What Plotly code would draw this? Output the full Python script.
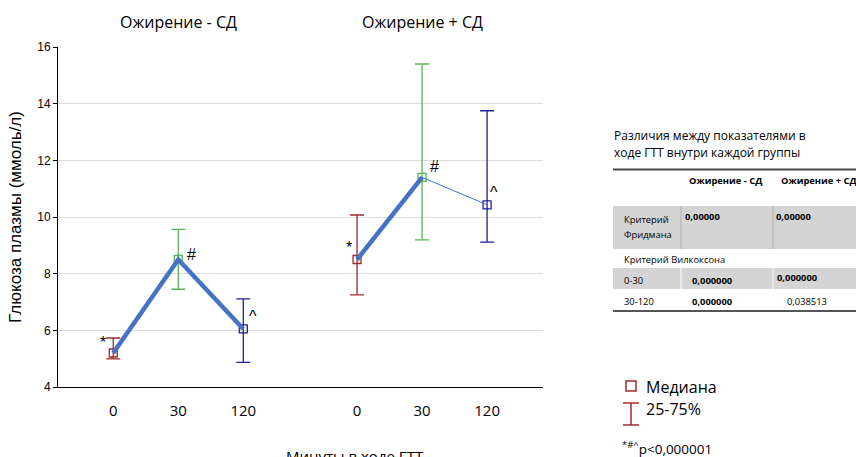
import plotly.graph_objects as go

# ---------------- data ----------------
groups = ["Ожирение - СД", "Ожирение + СД"]
times = ["0", "30", "120"]
median_g1 = [5.2, 8.5, 6.05]
q1_g1 = [4.99, 7.45, 4.87]
q3_g1 = [5.73, 9.56, 7.11]
median_g2 = [8.5, 11.4, 10.43]
q1_g2 = [7.25, 9.19, 9.11]
q3_g2 = [10.07, 15.4, 13.75]
marks = ["*", "#", "^"]
yticks = [4, 6, 8, 10, 12, 14, 16]

table_cols = ["Ожирение - СД", "Ожирение + СД"]
friedman = ["0,00000", "0,00000"]
wil_0_30 = ["0,000000", "0,000000"]
wil_30_120 = ["0,000000", "0,038513"]

# ---------------- layout constants ----------------
W, H = 856, 457
L, R, T, B = 58, 313, 47, 70
PW, PH = W - L - R, H - T - B
group_offset = [0, 3.75]
time_colors = ["#a3282c", "#55b455", "#1f1f96"]
line_blue = "#4472c4"
FONT = "Open Sans"

def px(x):
    return (x - L) / PW

def py(y):
    return (H - B - y) / PH

xs = [[g + i for i in range(len(times))] for g in group_offset]
meds = [median_g1, median_g2]
q1s = [q1_g1, q1_g2]
q3s = [q3_g1, q3_g2]

fig = go.Figure()

# error bars + median markers, one trace per time point
for ti, t in enumerate(times):
    xv = [xs[g][ti] for g in range(2)]
    yv = [meds[g][ti] for g in range(2)]
    up = [q3s[g][ti] - meds[g][ti] for g in range(2)]
    dn = [meds[g][ti] - q1s[g][ti] for g in range(2)]
    fig.add_trace(go.Scatter(
        x=xv, y=yv, mode="markers",
        marker=dict(symbol="square-open", size=8, color=time_colors[ti], line=dict(width=1.3)),
        error_y=dict(type="data", array=up, arrayminus=dn, color=time_colors[ti],
                     thickness=1.3, width=7),
        showlegend=False, hoverinfo="skip"))

# connecting lines
fig.add_trace(go.Scatter(x=xs[0], y=median_g1, mode="lines",
                         line=dict(color=line_blue, width=4.5), showlegend=False))
fig.add_trace(go.Scatter(x=xs[1][:2], y=median_g2[:2], mode="lines",
                         line=dict(color=line_blue, width=4.5), showlegend=False))
fig.add_trace(go.Scatter(x=xs[1][1:], y=median_g2[1:], mode="lines",
                         line=dict(color=line_blue, width=1), showlegend=False))

annotations = []
# significance marks
offsets = [(-10, 11), (13, 5), (10, 12)]
offsets2 = [(-8, 12), (12, 11), (7, 12)]
for g in range(2):
    for ti in range(3):
        ox, oy = (offsets if g == 0 else offsets2)[ti]
        annotations.append(dict(x=xs[g][ti], y=meds[g][ti], xref="x", yref="y",
                                text=marks[ti], showarrow=False, xshift=ox, yshift=oy,
                                xanchor="center", yanchor="middle",
                                font=dict(size=16, color="black", family="Liberation Sans")))

# group titles
for g in range(2):
    annotations.append(dict(x=xs[g][1], y=py(22), xref="x", yref="paper",
                            text=groups[g], showarrow=False, xanchor="center", yanchor="middle",
                            font=dict(size=16, color="black", family=FONT)))

# x axis title (cut at the bottom as in the original)
annotations.append(dict(x=px(355), y=py(444), xref="paper", yref="paper",
                        text="Минуты в ходе ГТТ", showarrow=False, xanchor="center", yanchor="top",
                        font=dict(size=15, color="black", family=FONT)))

shapes = []
# ---------------- table ----------------
def tt(x, y, text, bold=False, anchor="left", size=9.4):
    annotations.append(dict(x=px(x), y=py(y), xref="paper", yref="paper", xanchor=anchor,
                            yanchor="middle",
                            text=("<b>%s</b>" % text) if bold else text, showarrow=False,
                            font=dict(size=size, color="black", family=FONT)))

tt(612, 135, "Различия между показателями в", size=12)
tt(612, 152, "ходе ГТТ внутри каждой группы", size=12)
shapes.append(dict(type="line", xref="paper", yref="paper", x0=px(613), x1=px(856),
                   y0=py(169.5), y1=py(169.5), line=dict(color="#444", width=2)))
shapes.append(dict(type="line", xref="paper", yref="paper", x0=px(613), x1=px(856),
                   y0=py(311), y1=py(311), line=dict(color="#555", width=2)))
for (a, b) in [(206, 249), (268, 289)]:
    shapes.append(dict(type="rect", xref="paper", yref="paper", x0=px(613), x1=px(856),
                       y0=py(b), y1=py(a), fillcolor="#d4d4d4", line=dict(width=0), layer="below"))
for xv in [681, 773]:
    shapes.append(dict(type="line", xref="paper", yref="paper", x0=px(xv), x1=px(xv),
                       y0=py(249), y1=py(206), line=dict(color="#b0b0b0", width=1)))
    shapes.append(dict(type="line", xref="paper", yref="paper", x0=px(xv), x1=px(xv),
                       y0=py(289), y1=py(268), line=dict(color="#ffffff", width=1)))

tt(725, 180, table_cols[0], bold=True, anchor="center")
tt(819, 180, table_cols[1], bold=True, anchor="center")
tt(622, 219, "Критерий")
tt(622, 234, "Фридмана")
tt(683, 216, friedman[0], bold=True)
tt(774, 216, friedman[1], bold=True)
tt(622, 259, "Критерий Вилкоксона")
tt(622, 280, "0-30")
tt(690, 280, wil_0_30[0], bold=True)
tt(775, 277, wil_0_30[1], bold=True)
tt(622, 301, "30-120")
tt(690, 301, wil_30_120[0], bold=True)
tt(785, 301, wil_30_120[1])

# ---------------- custom legend ----------------
shapes.append(dict(type="rect", xref="paper", yref="paper", x0=px(626), x1=px(636),
                   y0=py(391), y1=py(381), line=dict(color=time_colors[0], width=1.5)))
shapes.append(dict(type="line", xref="paper", yref="paper", x0=px(631), x1=px(631),
                   y0=py(425), y1=py(403), line=dict(color=time_colors[0], width=1.5)))
for yv in [403, 425]:
    shapes.append(dict(type="line", xref="paper", yref="paper", x0=px(623), x1=px(639),
                       y0=py(yv), y1=py(yv), line=dict(color=time_colors[0], width=1.5)))
tt(644, 387, "Медиана", size=16)
tt(644, 409, "25-75%", size=16)
tt(620, 448, "<sup>*#^</sup>p<0,000001", size=13.5)

fig.update_layout(
    width=W, height=H,
    margin=dict(l=L, r=R, t=T, b=B),
    paper_bgcolor="white", plot_bgcolor="white",
    showlegend=False,
    annotations=annotations, shapes=shapes,
    xaxis=dict(range=[-0.85, xs[1][-1] + 0.86],
               tickvals=xs[0] + xs[1], ticktext=times + times,
               ticks="", showgrid=False, zeroline=False, ticklabelstandoff=10,
               showline=True, linecolor="black", linewidth=1,
               tickfont=dict(size=15, color="black", family=FONT)),
    yaxis=dict(range=[4, 16], tickvals=yticks,
               ticks="outside", ticklen=4, tickcolor="black",
               showgrid=True, gridcolor="#dcdcdc", gridwidth=1, zeroline=False,
               showline=True, linecolor="black", linewidth=1,
               tickfont=dict(size=12, color="black", family="Liberation Sans"),
               title=dict(text="Глюкоза плазмы (ммоль/л)", standoff=11,
                          font=dict(size=17, color="black", family="Liberation Sans"))),
)

fig.write_html("out.html")
